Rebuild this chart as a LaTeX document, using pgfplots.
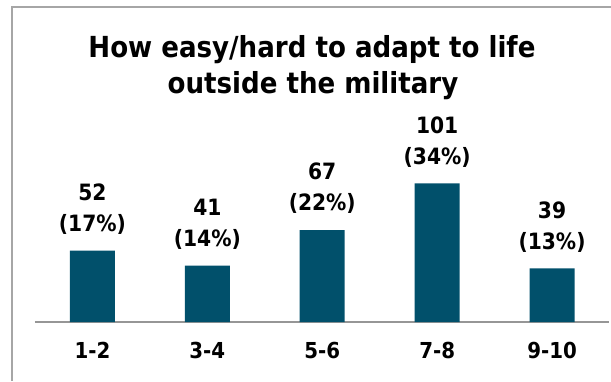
\documentclass[border=0pt]{standalone}
\usepackage{pgfplots}
\pgfplotsset{compat=1.18}
\usepackage{fontspec}
\setmainfont{DejaVu Sans Condensed}
\definecolor{barc}{RGB}{1,80,107}
\definecolor{framec}{RGB}{166,166,166}
\definecolor{axl}{RGB}{150,150,150}
\begin{document}
\begin{tikzpicture}[x=1pt,y=1pt]
\path[use as bounding box] (0,0) rectangle (611,381);
\draw[framec, line width=2pt] (11.7,0) -- (11.7,374) -- (611,374);
\node[font=\bfseries\fontsize{29}{36}\selectfont, anchor=base, inner sep=0] at (312,323.5) {How easy/hard to adapt to life};
\node[font=\bfseries\fontsize{29}{36}\selectfont, anchor=base, inner sep=0] at (313,287) {outside the military};
\begin{axis}[
  at={(35pt,59pt)}, anchor=south west, scale only axis,
  width=574.5pt, height=205.8pt,
  xmin=-0.5, xmax=4.5, ymin=0, ymax=150,
  axis y line=none, axis x line=bottom,
  axis line style={axl, line width=1.5pt, -},
  xtick=data, xticklabels={1-2,3-4,5-6,7-8,9-10},
  major tick length=0pt, ytick=\empty,
  xticklabel style={font=\bfseries\fontsize{22}{26}\selectfont, anchor=base, inner sep=0pt, yshift=-36pt},
  clip=false,
]
\addplot[ybar, bar width=45pt, fill=barc, draw=none,
  point meta=explicit symbolic, nodes near coords,
  nodes near coords style={font=\bfseries\fontsize{22.5}{31}\selectfont, align=center, anchor=south, inner sep=0pt, yshift=16pt, text=black}]
coordinates {(0,52) [52\\(17\%)] (1,41) [41\\(14\%)] (2,67) [67\\(22\%)] (3,101) [101\\(34\%)] (4,39) [39\\(13\%)]};
\end{axis}
\end{tikzpicture}
\end{document}
